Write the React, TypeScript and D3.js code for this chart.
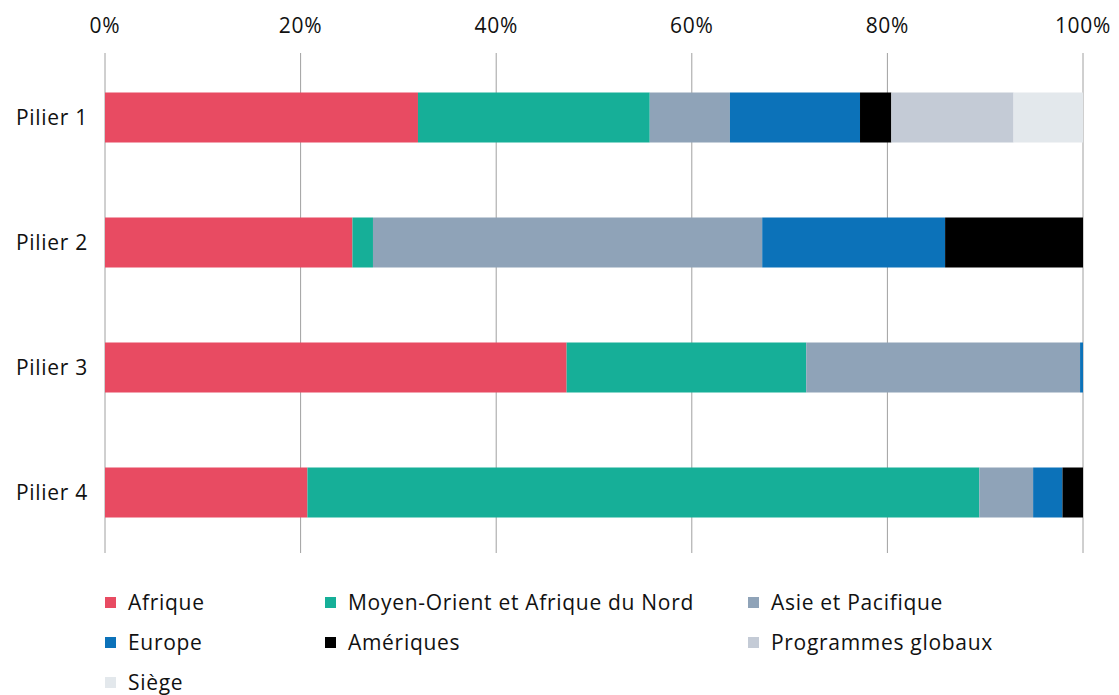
import React from "react";
import * as d3 from "d3";

const categories = ["Pilier 1", "Pilier 2", "Pilier 3", "Pilier 4"];
const seriesNames = ["Afrique", "Moyen-Orient et Afrique du Nord", "Asie et Pacifique", "Europe", "Amériques", "Programmes globaux", "Siège"];
const afrique = [32.0, 25.3, 47.2, 20.7];
const mena = [23.7, 2.1, 24.5, 68.7];
const asie = [8.2, 39.8, 28.0, 5.5];
const europe = [13.3, 18.7, 0.3, 3.0];
const ameriques = [3.2, 14.1, 0, 2.1];
const programmes = [12.5, 0, 0, 0];
const siege = [7.1, 0, 0, 0];
const xTicks = [0, 20, 40, 60, 80, 100];
const colors = ["#E84B62", "#16AF98", "#8FA3B8", "#0C72B9", "#000000", "#C4CBD6", "#E3E8EC"];

const W = 1119, H = 695;
const font = "'Open Sans', sans-serif";
const fs = 21;
const ls = 0.7;

export default function App() {
  const series = [afrique, mena, asie, europe, ameriques, programmes, siege];
  const x = d3.scaleLinear().domain([0, 100]).range([105, 1083]);
  const y = d3.scaleBand().domain(categories).range([55, 555]).paddingInner(0.6).paddingOuter(0.3);
  const rows = categories.map((c, i) => {
    const obj: any = { cat: c };
    seriesNames.forEach((s, j) => (obj[s] = series[j][i]));
    return obj;
  });
  const stacked = d3.stack().keys(seriesNames)(rows);
  const legendCols = [105, 325, 748];
  const legendRows = [603, 643, 683];
  return (
    <svg width={W} height={H} style={{ position: "absolute", left: 0, top: 0, background: "#fff" }}>
      {xTicks.map((t) => (
        <g key={t}>
          <line x1={x(t)} x2={x(t)} y1={53} y2={553} stroke="#a0a0a0" strokeWidth={1} />
          <text x={x(t)} y={33} textAnchor="middle" fontFamily={font} fontSize={fs} letterSpacing={ls} fill="#111">{t}%</text>
        </g>
      ))}
      {stacked.map((s, j) => (
        <g key={s.key} fill={colors[j]}>
          {s.map((d, i) => (
            d[1] - d[0] > 0 ? (
              <rect key={i} x={x(d[0])} width={x(d[1]) - x(d[0])} y={y(categories[i])} height={y.bandwidth()} />
            ) : null
          ))}
        </g>
      ))}
      {categories.map((c) => (
        <text key={c} x={88} y={(y(c) as number) + y.bandwidth() / 2} dy="0.35em" textAnchor="end" fontFamily={font} fontSize={fs} letterSpacing={ls} fill="#111">{c}</text>
      ))}
      {seriesNames.map((s, j) => {
        const cx = legendCols[j % 3];
        const cy = legendRows[Math.floor(j / 3)];
        return (
          <g key={s}>
            <rect x={cx} y={cy - 6} width={11} height={11} fill={colors[j]} />
            <text x={cx + 23} y={cy} dy="0.35em" fontFamily={font} fontSize={fs} letterSpacing={ls} fill="#111">{s}</text>
          </g>
        );
      })}
    </svg>
  );
}
